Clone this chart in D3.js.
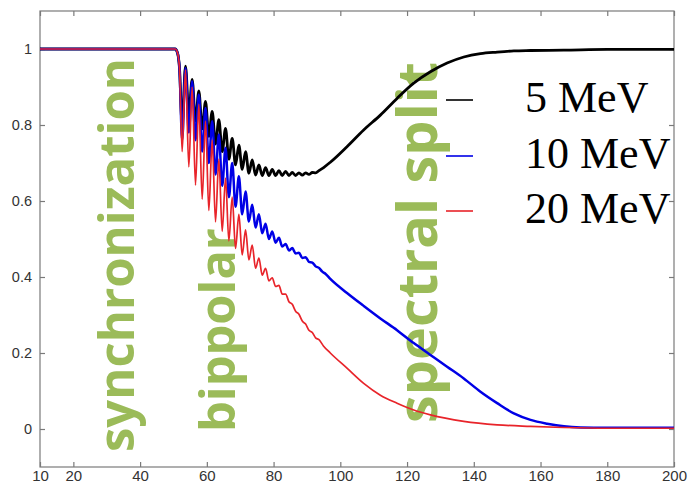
<!DOCTYPE html>
<html><head><meta charset="utf-8">
<script src="https://cdn.jsdelivr.net/npm/d3@7"></script>
<style>html,body{margin:0;padding:0;background:#fff;}svg{display:block;}</style>
</head><body>
<svg id="chart" width="691" height="486"></svg>
<script>
// ---------- data ----------
const seriesNames = ["5 MeV", "10 MeV", "20 MeV"];
const seriesColors = ["#000000", "#0000e6", "#e8242a"];

const t5 = [10, 50.5, 51.2, 51.8, 52.6, 53.6, 54.6, 55.6, 56.6, 57.6, 58.6, 59.6, 60.6, 61.6, 62.6, 63.6, 64.6, 65.6, 66.6, 67.6, 68.6, 69.6, 70.6, 71.6, 72.6, 73.6, 74.6, 75.6, 76.6, 77.6, 78.6, 79.6, 80.6, 81.6, 82.6, 83.6, 84.6, 85.6, 86.6, 87.6, 88.6, 89.6, 90.6, 91.6, 92.6, 93.6, 95, 97, 102, 107, 112, 117, 122, 127, 132, 137, 142, 147, 152, 157, 167, 180, 200];
const v5 = [1, 1, 0.99, 0.95, 0.80, 0.955, 0.83, 0.92, 0.81, 0.89, 0.79, 0.862, 0.77, 0.836, 0.75, 0.814, 0.73, 0.791, 0.71, 0.765, 0.695, 0.747, 0.683, 0.73, 0.673, 0.708, 0.668, 0.695, 0.667, 0.688, 0.667, 0.683, 0.667, 0.68, 0.667, 0.678, 0.667, 0.675, 0.667, 0.674, 0.668, 0.674, 0.670, 0.675, 0.674, 0.680, 0.688, 0.702, 0.743, 0.787, 0.826, 0.87, 0.91, 0.94, 0.963, 0.979, 0.988, 0.992, 0.995, 0.996, 0.997, 0.999, 0.999];

const t10 = [10, 50.5, 51.2, 51.8, 52.6, 53.6, 54.6, 55.6, 56.6, 57.6, 58.6, 59.6, 60.6, 61.6, 62.6, 63.6, 64.6, 65.6, 66.6, 67.6, 68.6, 69.6, 70.6, 71.6, 72.6, 73.6, 74.6, 75.6, 76.6, 77.6, 78.6, 79.6, 80.6, 81.6, 82.6, 83.6, 84.6, 85.6, 86.6, 87.6, 88.6, 89.6, 90.6, 91.6, 92.6, 93.6, 94.6, 95.6, 97, 102, 107, 112, 117, 122, 127, 132, 137, 142, 147, 152, 157, 162, 167, 172, 180, 200];
const v10 = [1, 1, 0.99, 0.95, 0.76, 0.95, 0.78, 0.915, 0.76, 0.88, 0.73, 0.845, 0.70, 0.81, 0.67, 0.775, 0.64, 0.74, 0.61, 0.70, 0.585, 0.665, 0.565, 0.625, 0.546, 0.59, 0.53, 0.565, 0.515, 0.54, 0.50, 0.52, 0.49, 0.503, 0.48, 0.487, 0.47, 0.476, 0.462, 0.464, 0.45, 0.452, 0.44, 0.438, 0.428, 0.424, 0.414, 0.408, 0.395, 0.358, 0.324, 0.291, 0.26, 0.226, 0.195, 0.164, 0.133, 0.098, 0.068, 0.041, 0.024, 0.014, 0.007, 0.004, 0.003, 0.003];

const t20 = [10, 50.5, 51.2, 51.8, 52.6, 53.6, 54.6, 55.6, 56.6, 57.6, 58.6, 59.6, 60.6, 61.6, 62.6, 63.6, 64.6, 65.6, 66.6, 67.6, 68.6, 69.6, 70.6, 71.6, 72.6, 73.6, 74.6, 75.6, 76.6, 77.6, 78.6, 79.6, 80.6, 81.6, 82.6, 83.6, 84.6, 85.6, 86.6, 87.6, 88.6, 89.6, 90.6, 91.6, 92.6, 93.6, 95, 97, 102, 107, 112, 117, 122, 127, 137, 147, 157, 167, 180, 200];
const v20 = [1, 1, 0.99, 0.95, 0.73, 0.945, 0.69, 0.90, 0.642, 0.855, 0.605, 0.81, 0.575, 0.76, 0.545, 0.71, 0.52, 0.66, 0.495, 0.61, 0.475, 0.565, 0.458, 0.524, 0.445, 0.484, 0.423, 0.45, 0.405, 0.423, 0.39, 0.398, 0.375, 0.378, 0.355, 0.355, 0.335, 0.328, 0.31, 0.302, 0.284, 0.276, 0.26, 0.254, 0.24, 0.235, 0.218, 0.2, 0.16, 0.12, 0.089, 0.068, 0.05, 0.037, 0.02, 0.011, 0.007, 0.004, 0.002, 0.002];

const xTicks = [10, 20, 40, 60, 80, 100, 120, 140, 160, 180, 200];
const yTicks = [0, 0.2, 0.4, 0.6, 0.8, 1];
const annotations = ["synchronization", "bippolar", "spectral split"];

// ---------- drawing ----------
const svg = d3.select("#chart");
const L = 40, R = 674, T = 11, B = 467;
const x = d3.scaleLinear().domain([10, 200]).range([L, R]);
const y = d3.scaleLinear().domain([-0.1, 1.1]).range([B, T]);

const frameColor = "#7a7a7a";
const labelColor = "#333";

svg.append("rect").attr("x", L).attr("y", T).attr("width", R - L).attr("height", B - T)
  .attr("fill", "none").attr("stroke", frameColor).attr("stroke-width", 1.2);

const axB = svg.append("g").attr("transform", `translate(0,${B})`)
  .call(d3.axisBottom(x).tickValues(xTicks).tickSize(-5).tickPadding(3).tickFormat(d3.format("d")));
const axT = svg.append("g").attr("transform", `translate(0,${T})`)
  .call(d3.axisTop(x).tickValues(xTicks).tickSize(-5).tickFormat(""));
const axL = svg.append("g").attr("transform", `translate(${L},0)`)
  .call(d3.axisLeft(y).tickValues(yTicks).tickSize(-5).tickPadding(8).tickFormat(d => d === 0 ? "0" : d === 1 ? "1" : d3.format(".1f")(d)));
const axR = svg.append("g").attr("transform", `translate(${R},0)`)
  .call(d3.axisRight(y).tickValues(yTicks).tickSize(-5).tickFormat(""));
[axB, axT, axL, axR].forEach(g => {
  g.select(".domain").remove();
  g.selectAll(".tick line").attr("stroke", frameColor).attr("stroke-width", 1.2);
  g.selectAll(".tick text").attr("fill", labelColor)
    .style("font-family", "Liberation Sans, Arial, sans-serif").style("font-size", "15px");
});
axL.selectAll(".tick text").style("font-size", "14.5px");

// green annotations (behind curves)
const green = "#9bbb59";
const annoPos = [
  {x: 134, y: 452, len: 394},
  {x: 235, y: 432, len: 204},
  {x: 437, y: 423, len: 361}
];
annotations.forEach((txt, i) => {
  const p = annoPos[i];
  const t = svg.append("text")
    .attr("transform", `translate(${p.x},${p.y}) rotate(-90)`)
    .attr("fill", green)
    .style("font-family", "Open Sans, sans-serif")
    .style("font-weight", 700)
    .style("font-size", "52px")
    .text(txt);
  const w = t.node().getComputedTextLength();
  t.style("font-size", (52 * p.len / w).toFixed(2) + "px");
});

// curves
const series = [
  {t: t5, v: v5, w: 2.8},
  {t: t10, v: v10, w: 2.5},
  {t: t20, v: v20, w: 1.7}
];
const line = d3.line().x(d => x(d[0])).y(d => y(d[1])).curve(d3.curveMonotoneX);
series.forEach((s, i) => {
  const pts = s.t.map((tt, k) => [tt, s.v[k]]);
  svg.append("path").datum(pts).attr("d", line)
    .attr("fill", "none").attr("stroke", seriesColors[i])
    .attr("stroke-width", s.w).attr("stroke-linejoin", "round");
});

// legend
const legY = [100, 156, 211];
seriesNames.forEach((name, i) => {
  svg.append("line").attr("x1", 446).attr("x2", 473).attr("y1", legY[i]).attr("y2", legY[i])
    .attr("stroke", seriesColors[i]).attr("stroke-width", 1.6);
  svg.append("text").attr("x", 525).attr("y", legY[i] + 12)
    .attr("fill", "#000")
    .style("font-family", "Liberation Serif, Times New Roman, serif")
    .style("font-size", "44px")
    .text(name);
});
</script>
</body></html>
